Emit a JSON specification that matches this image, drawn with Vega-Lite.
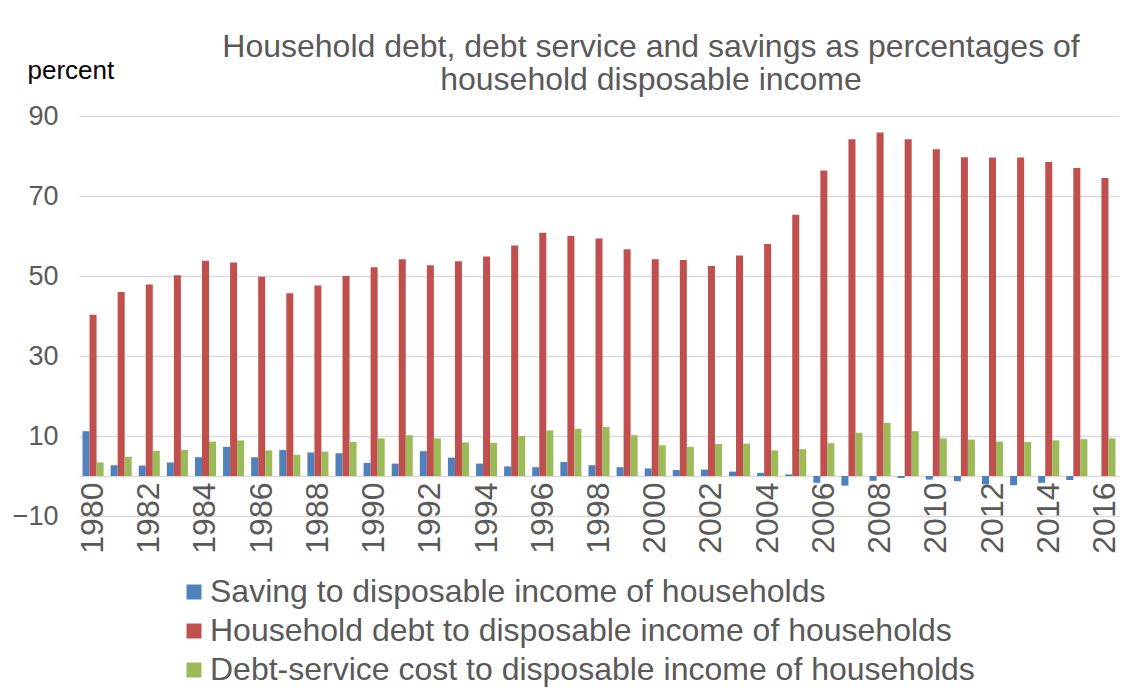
{
  "$schema": "https://vega.github.io/schema/vega-lite/v6.json",
  "autosize": {"type": "none"},
  "padding": {"left": 79, "top": 116, "right": 3, "bottom": 173},
  "width": 1040,
  "height": 400,
  "background": "white",
  "title": {
    "text": ["Household debt, debt service and savings as percentages of", "household disposable income"],
    "anchor": "middle",
    "frame": "group",
    "dx": 52,
    "offset": -40,
    "font": "Liberation Sans",
    "fontSize": 32,
    "fontWeight": "normal",
    "color": "#595959",
    "lineHeight": 33
  },
  "config": {
    "view": {"stroke": null},
    "font": "Liberation Sans"
  },
  "data": {
    "values": [
      {"year": 1980, "series": "Saving to disposable income of households", "value": 11.2},
      {"year": 1981, "series": "Saving to disposable income of households", "value": 2.7},
      {"year": 1982, "series": "Saving to disposable income of households", "value": 2.6},
      {"year": 1983, "series": "Saving to disposable income of households", "value": 3.4},
      {"year": 1984, "series": "Saving to disposable income of households", "value": 4.7},
      {"year": 1985, "series": "Saving to disposable income of households", "value": 7.3},
      {"year": 1986, "series": "Saving to disposable income of households", "value": 4.7},
      {"year": 1987, "series": "Saving to disposable income of households", "value": 6.5},
      {"year": 1988, "series": "Saving to disposable income of households", "value": 5.9},
      {"year": 1989, "series": "Saving to disposable income of households", "value": 5.7},
      {"year": 1990, "series": "Saving to disposable income of households", "value": 3.3},
      {"year": 1991, "series": "Saving to disposable income of households", "value": 3.1},
      {"year": 1992, "series": "Saving to disposable income of households", "value": 6.2},
      {"year": 1993, "series": "Saving to disposable income of households", "value": 4.6},
      {"year": 1994, "series": "Saving to disposable income of households", "value": 3.1},
      {"year": 1995, "series": "Saving to disposable income of households", "value": 2.4},
      {"year": 1996, "series": "Saving to disposable income of households", "value": 2.2},
      {"year": 1997, "series": "Saving to disposable income of households", "value": 3.5},
      {"year": 1998, "series": "Saving to disposable income of households", "value": 2.7},
      {"year": 1999, "series": "Saving to disposable income of households", "value": 2.2},
      {"year": 2000, "series": "Saving to disposable income of households", "value": 1.9},
      {"year": 2001, "series": "Saving to disposable income of households", "value": 1.5},
      {"year": 2002, "series": "Saving to disposable income of households", "value": 1.6},
      {"year": 2003, "series": "Saving to disposable income of households", "value": 1.1},
      {"year": 2004, "series": "Saving to disposable income of households", "value": 0.8},
      {"year": 2005, "series": "Saving to disposable income of households", "value": 0.4},
      {"year": 2006, "series": "Saving to disposable income of households", "value": -1.7},
      {"year": 2007, "series": "Saving to disposable income of households", "value": -2.4},
      {"year": 2008, "series": "Saving to disposable income of households", "value": -1.2},
      {"year": 2009, "series": "Saving to disposable income of households", "value": -0.5},
      {"year": 2010, "series": "Saving to disposable income of households", "value": -0.9},
      {"year": 2011, "series": "Saving to disposable income of households", "value": -1.3},
      {"year": 2012, "series": "Saving to disposable income of households", "value": -2.1},
      {"year": 2013, "series": "Saving to disposable income of households", "value": -2.3},
      {"year": 2014, "series": "Saving to disposable income of households", "value": -1.7},
      {"year": 2015, "series": "Saving to disposable income of households", "value": -1.0},
      {"year": 2016, "series": "Saving to disposable income of households", "value": 0.0},
      {"year": 1980, "series": "Household debt to disposable income of households", "value": 40.3},
      {"year": 1981, "series": "Household debt to disposable income of households", "value": 46.0},
      {"year": 1982, "series": "Household debt to disposable income of households", "value": 47.9},
      {"year": 1983, "series": "Household debt to disposable income of households", "value": 50.2},
      {"year": 1984, "series": "Household debt to disposable income of households", "value": 53.8},
      {"year": 1985, "series": "Household debt to disposable income of households", "value": 53.4},
      {"year": 1986, "series": "Household debt to disposable income of households", "value": 49.8},
      {"year": 1987, "series": "Household debt to disposable income of households", "value": 45.7},
      {"year": 1988, "series": "Household debt to disposable income of households", "value": 47.6},
      {"year": 1989, "series": "Household debt to disposable income of households", "value": 50.0},
      {"year": 1990, "series": "Household debt to disposable income of households", "value": 52.2},
      {"year": 1991, "series": "Household debt to disposable income of households", "value": 54.2},
      {"year": 1992, "series": "Household debt to disposable income of households", "value": 52.7},
      {"year": 1993, "series": "Household debt to disposable income of households", "value": 53.7},
      {"year": 1994, "series": "Household debt to disposable income of households", "value": 54.9},
      {"year": 1995, "series": "Household debt to disposable income of households", "value": 57.6},
      {"year": 1996, "series": "Household debt to disposable income of households", "value": 60.8},
      {"year": 1997, "series": "Household debt to disposable income of households", "value": 60.0},
      {"year": 1998, "series": "Household debt to disposable income of households", "value": 59.4},
      {"year": 1999, "series": "Household debt to disposable income of households", "value": 56.7},
      {"year": 2000, "series": "Household debt to disposable income of households", "value": 54.2},
      {"year": 2001, "series": "Household debt to disposable income of households", "value": 54.0},
      {"year": 2002, "series": "Household debt to disposable income of households", "value": 52.5},
      {"year": 2003, "series": "Household debt to disposable income of households", "value": 55.1},
      {"year": 2004, "series": "Household debt to disposable income of households", "value": 58.0},
      {"year": 2005, "series": "Household debt to disposable income of households", "value": 65.3},
      {"year": 2006, "series": "Household debt to disposable income of households", "value": 76.4},
      {"year": 2007, "series": "Household debt to disposable income of households", "value": 84.2},
      {"year": 2008, "series": "Household debt to disposable income of households", "value": 85.9},
      {"year": 2009, "series": "Household debt to disposable income of households", "value": 84.2},
      {"year": 2010, "series": "Household debt to disposable income of households", "value": 81.7},
      {"year": 2011, "series": "Household debt to disposable income of households", "value": 79.7},
      {"year": 2012, "series": "Household debt to disposable income of households", "value": 79.6},
      {"year": 2013, "series": "Household debt to disposable income of households", "value": 79.6},
      {"year": 2014, "series": "Household debt to disposable income of households", "value": 78.5},
      {"year": 2015, "series": "Household debt to disposable income of households", "value": 77.0},
      {"year": 2016, "series": "Household debt to disposable income of households", "value": 74.5},
      {"year": 1980, "series": "Debt-service cost to disposable income of households", "value": 3.4},
      {"year": 1981, "series": "Debt-service cost to disposable income of households", "value": 4.8},
      {"year": 1982, "series": "Debt-service cost to disposable income of households", "value": 6.3},
      {"year": 1983, "series": "Debt-service cost to disposable income of households", "value": 6.5},
      {"year": 1984, "series": "Debt-service cost to disposable income of households", "value": 8.6},
      {"year": 1985, "series": "Debt-service cost to disposable income of households", "value": 8.9},
      {"year": 1986, "series": "Debt-service cost to disposable income of households", "value": 6.4},
      {"year": 1987, "series": "Debt-service cost to disposable income of households", "value": 5.3},
      {"year": 1988, "series": "Debt-service cost to disposable income of households", "value": 6.1},
      {"year": 1989, "series": "Debt-service cost to disposable income of households", "value": 8.5},
      {"year": 1990, "series": "Debt-service cost to disposable income of households", "value": 9.4},
      {"year": 1991, "series": "Debt-service cost to disposable income of households", "value": 10.2},
      {"year": 1992, "series": "Debt-service cost to disposable income of households", "value": 9.4},
      {"year": 1993, "series": "Debt-service cost to disposable income of households", "value": 8.4},
      {"year": 1994, "series": "Debt-service cost to disposable income of households", "value": 8.3},
      {"year": 1995, "series": "Debt-service cost to disposable income of households", "value": 10.0},
      {"year": 1996, "series": "Debt-service cost to disposable income of households", "value": 11.4},
      {"year": 1997, "series": "Debt-service cost to disposable income of households", "value": 11.8},
      {"year": 1998, "series": "Debt-service cost to disposable income of households", "value": 12.3},
      {"year": 1999, "series": "Debt-service cost to disposable income of households", "value": 10.2},
      {"year": 2000, "series": "Debt-service cost to disposable income of households", "value": 7.7},
      {"year": 2001, "series": "Debt-service cost to disposable income of households", "value": 7.3},
      {"year": 2002, "series": "Debt-service cost to disposable income of households", "value": 8.0},
      {"year": 2003, "series": "Debt-service cost to disposable income of households", "value": 8.1},
      {"year": 2004, "series": "Debt-service cost to disposable income of households", "value": 6.4},
      {"year": 2005, "series": "Debt-service cost to disposable income of households", "value": 6.7},
      {"year": 2006, "series": "Debt-service cost to disposable income of households", "value": 8.2},
      {"year": 2007, "series": "Debt-service cost to disposable income of households", "value": 10.8},
      {"year": 2008, "series": "Debt-service cost to disposable income of households", "value": 13.3},
      {"year": 2009, "series": "Debt-service cost to disposable income of households", "value": 11.2},
      {"year": 2010, "series": "Debt-service cost to disposable income of households", "value": 9.4},
      {"year": 2011, "series": "Debt-service cost to disposable income of households", "value": 9.1},
      {"year": 2012, "series": "Debt-service cost to disposable income of households", "value": 8.6},
      {"year": 2013, "series": "Debt-service cost to disposable income of households", "value": 8.5},
      {"year": 2014, "series": "Debt-service cost to disposable income of households", "value": 8.9},
      {"year": 2015, "series": "Debt-service cost to disposable income of households", "value": 9.2},
      {"year": 2016, "series": "Debt-service cost to disposable income of households", "value": 9.4}
    ]
  },
  "mark": {"type": "bar"},
  "encoding": {
    "x": {
      "field": "year",
      "type": "ordinal",
      "scale": {"paddingInner": 0.25, "paddingOuter": 0.125},
      "axis": {
        "title": null,
        "offset": -40,
        "labelAngle": -90,
        "labelFontSize": 32,
        "labelColor": "#595959",
        "labelPadding": 6,
        "labelExpr": "datum.value % 2 == 0 ? datum.label : ''",
        "ticks": false,
        "domainColor": "#d9d9d9",
        "domainWidth": 1.5,
        "grid": false
      }
    },
    "xOffset": {
      "field": "series",
      "type": "nominal",
      "sort": ["Saving to disposable income of households", "Household debt to disposable income of households", "Debt-service cost to disposable income of households"],
      "scale": {"paddingInner": 0, "paddingOuter": 0}
    },
    "y": {
      "field": "value",
      "type": "quantitative",
      "scale": {"domain": [-10, 90], "nice": false, "zero": false},
      "axis": {
        "values": [-10, 10, 30, 50, 70, 90],
        "title": "percent",
        "titleAngle": 0,
        "titleAlign": "left",
        "titleBaseline": "alphabetic",
        "titleX": -52,
        "titleY": -38,
        "titleFontSize": 26,
        "titleFontWeight": "normal",
        "titleColor": "#000000",
        "labelFontSize": 27,
        "labelColor": "#595959",
        "labelPadding": 21,
        "ticks": false,
        "domain": false,
        "gridColor": "#d9d9d9",
        "gridWidth": 1.5
      }
    },
    "color": {
      "field": "series",
      "type": "nominal",
      "scale": {
        "domain": ["Saving to disposable income of households", "Household debt to disposable income of households", "Debt-service cost to disposable income of households"],
        "range": ["#4F81BD", "#C0504D", "#9BBB59"]
      },
      "legend": {
        "title": null,
        "orient": "none",
        "legendX": 99,
        "legendY": 460,
        "direction": "vertical",
        "symbolType": "square",
        "symbolSize": 225,
        "symbolStrokeWidth": 0,
        "labelFontSize": 32,
        "labelColor": "#595959",
        "labelOffset": 0,
        "labelLimit": 1000,
        "rowPadding": 7
      }
    }
  }
}
